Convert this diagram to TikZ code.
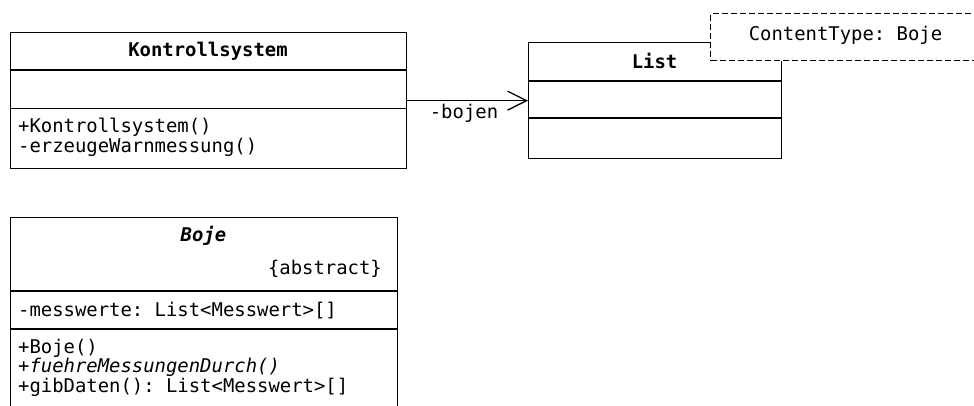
\documentclass[tikz,border=0pt]{standalone}
\usepackage{fontspec}
\setmainfont{DejaVu Sans Mono}
\usetikzlibrary{arrows.meta}

\begin{document}
\frenchspacing
\begin{tikzpicture}[x=1pt, y=-1pt,
  umlbox/.style={draw, line width=1.3pt, fill=white, inner sep=0pt, anchor=north west},
  divider/.style={line width=1.3pt},
  txt/.style={inner sep=0pt, font=\fontsize{18.9}{19.6}\selectfont},
  classname/.style={txt, font=\fontsize{18.9}{19.6}\selectfont\bfseries},
  member/.style={txt, anchor=west},
  notebox/.style={draw, line width=1.2pt, dash pattern=on 6pt off 3pt, fill=white, inner sep=0pt, anchor=north west},
  assoc/.style={line width=1.3pt, -{Straight Barb[length=19pt, width=19pt, line width=1.3pt]}}
]
\useasboundingbox (0,0) rectangle (974,405);
\clip (0,0) rectangle (974,405);

% class Kontrollsystem
\node[umlbox, minimum width=396pt, minimum height=136pt] (ks) at (10,32) {};
\draw[divider] (10,70) -- (406,70);
\draw[divider] (10,108.5) -- (406,108.5);
\node[classname] (ksname) at (208,51) {Kontrollsystem};
\node[member] (ksm1) at (18,127) {+Kontrollsystem()};
\node[member] (ksm2) at (18,147) {-erzeugeWarnmessung()};

% class List
\node[umlbox, minimum width=253pt, minimum height=116pt] (list) at (528,42) {};
\draw[divider] (528,81) -- (781,81);
\draw[divider] (528,118) -- (781,118);
\node[classname] (listname) at (654.5,61) {List};

% template parameter of List
\node[notebox, minimum width=300pt, minimum height=47pt] (tpl) at (710,13) {};
\node[txt] (tpltext) at (845.5,35.5) {ContentType: Boje};

% association Kontrollsystem -> List
\draw[assoc] (ks.east) -- (list.west);
\node[txt] (role) at (464,113) {-bojen};

% abstract class Boje
\node[umlbox, minimum width=387pt, minimum height=210pt] (boje) at (10,217) {};
\draw[divider] (10,291) -- (397,291);
\draw[divider] (10,329) -- (397,329);
\node[txt, font=\fontsize{18.9}{19.6}\selectfont\bfseries\itshape] (bojename) at (203.5,236) {Boje};
\node[txt, anchor=east] (bojeabs) at (382,269) {\{abstract\}};
\node[member] (bojea1) at (18,310.5) {-messwerte: List<Messwert>[]};
\node[member] (bojem1) at (18,348) {+Boje()};
\node[member, font=\fontsize{18.9}{19.6}\selectfont\itshape] (bojem2) at (18,367.5) {+fuehreMessungenDurch()};
\node[member] (bojem3) at (18,387) {+gibDaten(): List<Messwert>[]};
\end{tikzpicture}
\end{document}
